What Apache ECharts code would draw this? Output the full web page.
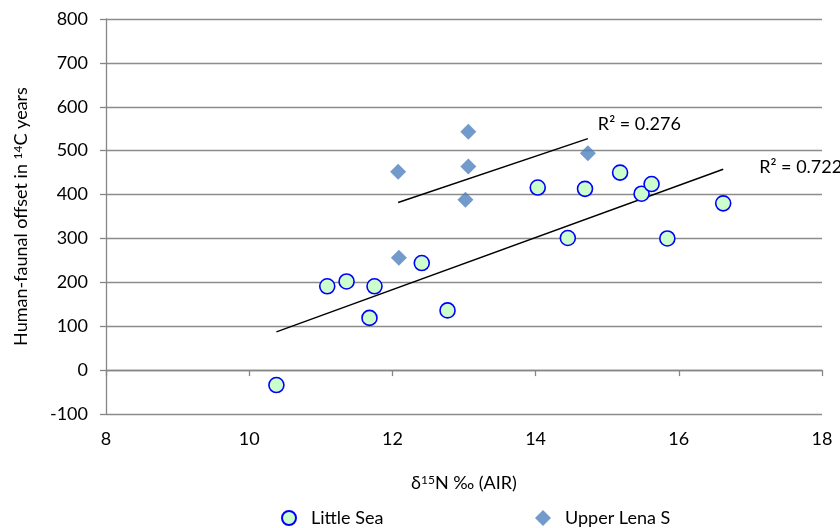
<!DOCTYPE html>
<html>
<head>
<meta charset="utf-8">
<script src="https://cdn.jsdelivr.net/npm/echarts@6/dist/echarts.min.js"></script>
<style>html,body{margin:0;padding:0;background:#fff}#c{width:840px;height:528px}</style>
</head>
<body>
<div id="c"></div>
<script>
// Little Sea
const littleSeaX = [10.38, 11.09, 11.36, 11.75, 11.68, 12.41, 12.77, 14.03, 14.45, 14.69, 15.18, 15.48, 15.62, 15.84, 16.62];
const littleSeaY = [-34, 191, 202, 191, 119, 244, 136, 416, 301, 413, 450, 402, 424, 300, 380];
// Upper Lena S
const upperLenaX = [12.08, 12.09, 13.06, 13.06, 13.02, 14.73];
const upperLenaY = [452, 256, 543, 464, 388, 494];
const seriesNames = ['Little Sea', 'Upper Lena S'];
const r2Labels = ['R² = 0.722', 'R² = 0.276'];

function zip(xs, ys) { return xs.map((x, i) => [x, ys[i]]); }
function trend(xs, ys) {
  const n = xs.length;
  const mx = xs.reduce((a, b) => a + b, 0) / n;
  const my = ys.reduce((a, b) => a + b, 0) / n;
  let sxy = 0, sxx = 0;
  for (let i = 0; i < n; i++) { sxy += (xs[i] - mx) * (ys[i] - my); sxx += (xs[i] - mx) ** 2; }
  const b = sxy / sxx, a = my - b * mx;
  const x0 = Math.min(...xs), x1 = Math.max(...xs);
  return [[x0, a + b * x0], [x1, a + b * x1]];
}
const tLS = trend(littleSeaX, littleSeaY);
const tUL = trend(upperLenaX, upperLenaY);

const FONT = 'Lato';
const FS = 18;
const chart = echarts.init(document.getElementById('c'), null, { renderer: 'canvas' });
chart.setOption({
  animation: false,
  textStyle: { fontFamily: FONT, color: '#000' },
  grid: { left: 106, right: 18, top: 19, bottom: 114 },
  xAxis: {
    type: 'value', min: 8, max: 18, interval: 2,
    name: '{d|δ}{sup|15}{n|N ‰ (AIR)}', nameLocation: 'middle', nameGap: 60,
    nameTextStyle: {
      rich: {
        d: { fontFamily: FONT, fontSize: FS, color: '#000' },
        n: { fontFamily: FONT, fontSize: FS, color: '#000' },
        sup: { fontFamily: FONT, fontSize: 12, color: '#000', verticalAlign: 'top', padding: [0, 0, 6, 0] }
      }
    },
    axisLine: { lineStyle: { color: '#868686', width: 1.3 } },
    axisTick: { show: true, length: 6, lineStyle: { color: '#868686', width: 1.3 } },
    axisLabel: { fontFamily: FONT, fontSize: FS, color: '#000', margin: 16 },
    splitLine: { show: false }
  },
  yAxis: {
    type: 'value', min: -100, max: 800, interval: 100,
    name: '{n|Human-faunal offset in }{sup|14}{n|C years}', nameLocation: 'middle', nameGap: 76, nameRotate: 90,
    nameTextStyle: {
      rich: {
        n: { fontFamily: FONT, fontSize: FS, color: '#000' },
        sup: { fontFamily: FONT, fontSize: 12, color: '#000', verticalAlign: 'top', padding: [0, 0, 6, 0] }
      }
    },
    axisLine: { show: true, lineStyle: { color: '#868686', width: 1.3 } },
    axisTick: { show: true, length: 6, lineStyle: { color: '#868686', width: 1.3 } },
    axisLabel: { fontFamily: FONT, fontSize: FS, color: '#000', margin: 18 },
    splitLine: { lineStyle: { color: '#8c8c8c', width: 1.3 } }
  },
  legend: [
    { data: [seriesNames[0]], left: 276, top: 504, itemWidth: 14, itemHeight: 14, itemGap: 0,
      textStyle: { fontFamily: FONT, fontSize: FS, color: '#000', padding: [0, 0, 0, 10] } },
    { data: [seriesNames[1]], left: 530, top: 504, itemWidth: 16, itemHeight: 16, itemGap: 0,
      textStyle: { fontFamily: FONT, fontSize: FS, color: '#000', padding: [0, 0, 0, 9] } }
  ],
  series: [
    { name: seriesNames[0], type: 'scatter', data: zip(littleSeaX, littleSeaY), symbol: 'circle', symbolSize: 15, z: 3,
      itemStyle: { color: '#ccffcc', borderColor: '#0000ff', borderWidth: 1.6, opacity: 1 } },
    { name: seriesNames[1], type: 'scatter', data: zip(upperLenaX, upperLenaY), symbol: 'diamond', symbolSize: [16, 16], z: 3,
      itemStyle: { color: '#4f81bd' } },
    { name: 'trendLS', type: 'line', data: tLS, symbol: 'none', silent: true, z: 2,
      lineStyle: { color: '#000', width: 1.4 },
      endLabel: { show: true, formatter: r2Labels[0], distance: 0, offset: [36, -2], fontFamily: FONT, fontSize: FS, color: '#000' } },
    { name: 'trendUL', type: 'line', data: tUL, symbol: 'none', silent: true, z: 2,
      lineStyle: { color: '#000', width: 1.4 },
      endLabel: { show: true, formatter: r2Labels[1], distance: 0, offset: [10, -14], fontFamily: FONT, fontSize: FS, color: '#000' } }
  ]
});
</script>
</body>
</html>
